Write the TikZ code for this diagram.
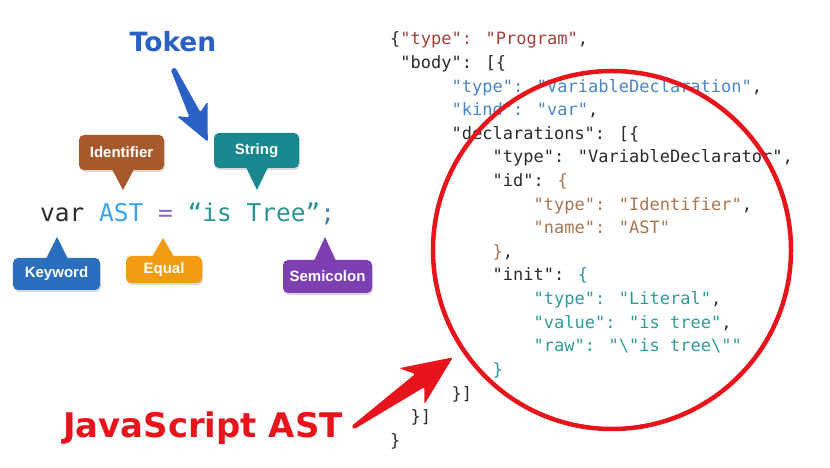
\documentclass[tikz,border=0pt]{standalone}
\usepackage{fontspec}
\setmainfont{DejaVu Sans}
\newfontfamily\labelfont{Liberation Sans}
\newfontfamily\codefont{DejaVu Sans Mono}
\usetikzlibrary{calc,shadows}
\definecolor{ink}{HTML}{2B2B2B}
\definecolor{tokblue}{HTML}{2B61C4}
\definecolor{astred}{HTML}{E8141B}
\definecolor{idbrown}{HTML}{A65A2C}
\definecolor{strteal}{HTML}{17898E}
\definecolor{kwblue}{HTML}{2A6EBE}
\definecolor{eqorange}{HTML}{F39C12}
\definecolor{semipurple}{HTML}{7E3FB3}
\definecolor{astblue}{HTML}{3BA2EE}
\definecolor{eqpurple}{HTML}{8B62C4}
\definecolor{littl}{HTML}{2A9490}
\definecolor{semiblue}{HTML}{3B84B5}
\definecolor{progred}{HTML}{A8403F}
\definecolor{declblue}{HTML}{4A86C5}
\definecolor{jsbrown}{HTML}{A77650}
\definecolor{jsteal}{HTML}{2E9C9A}

% tapering arrow: colour, tail, tip, tail/neck/barb half widths, neck/barb fractions
\newcommand\fatarrow[8]{%
  \fill[#1,rounded corners=1.5bp]
    ($(#2)!#4!90:(#3)$) -- ($(#2)!#7!(#3)!#5!90:(#3)$)
    -- ($(#2)!#8!(#3)!#6!90:(#3)$) -- (#3)
    -- ($(#2)!#8!(#3)!#6!-90:(#3)$) -- ($(#2)!#7!(#3)!#5!-90:(#3)$)
    -- ($(#2)!#4!-90:(#3)$) -- cycle;}

\begin{document}
\begin{tikzpicture}[x=1bp,y=-1bp,
    bubble/.style={fill=#1,rounded corners=5bp,text=white,inner sep=0pt,
      font=\labelfont\bfseries\fontsize{15bp}{15bp}\selectfont,
      drop shadow={shadow xshift=1bp,shadow yshift=-2bp,opacity=0.3}},
    json/.style={anchor=base west,inner sep=0pt,text=ink,
      font=\codefont\fontsize{17bp}{20bp}\selectfont}]
  \useasboundingbox (0,0) rectangle (830,468);

  % Tokens of the source line
  \node[anchor=base,inner sep=0pt,text=tokblue,
        font=\bfseries\fontsize{26.5bp}{30bp}\selectfont] (token) at (173,52) {Token};

  \node[anchor=base west,inner sep=0pt,text=ink,
        font=\codefont\fontsize{24.5bp}{28bp}\selectfont] (codeline) at (40,222)
       {var {\color{astblue}AST} {\color{eqpurple}=} {\color{littl}“is Tree”}{\color{semiblue};}};

  \node[bubble=idbrown,minimum width=85bp,minimum height=35bp] (ident) at (121.5,152.5) {Identifier};
  \node[bubble=strteal,minimum width=85bp,minimum height=35bp] (str) at (256.5,150.5) {String};
  \node[bubble=kwblue,minimum width=87bp,minimum height=32bp] (kw) at (56.5,274) {Keyword};
  \node[bubble=eqorange,minimum width=76bp,minimum height=27bp] (eq) at (164,269.5) {Equal};
  \node[bubble=semipurple,minimum width=89bp,minimum height=33bp] (semi) at (327.5,276.5) {Semicolon};

  \coordinate (tip-ident) at (123,190);
  \coordinate (tip-str) at (257,190);
  \coordinate (tip-kw) at (57,237);
  \coordinate (tip-eq) at (163,238);
  \coordinate (tip-semi) at (325,237);
  \foreach \nm/\col/\side/\off in {ident/idbrown/south/1bp, str/strteal/south/1bp,
      kw/kwblue/north/-1bp, eq/eqorange/north/-1bp, semi/semipurple/north/-1bp}
    \fill[\col] ($(tip-\nm |- \nm.\side)+(-11bp,\off)$) -- (tip-\nm)
                -- ($(tip-\nm |- \nm.\side)+(11bp,\off)$) -- cycle;

  \coordinate (tokstart) at ([yshift=-16bp]token.south);
  \coordinate (tokend) at ([xshift=-6bp,yshift=-9bp]str.north west);
  \fatarrow{tokblue}{tokstart}{tokend}{2.5bp}{6bp}{17bp}{0.63}{0.55}

  % The AST as JSON
  \foreach \ln/\ind/\txt in {
      1/0/{\{{\color{progred}"type": "Program"},},
      2/1/{"body": [\{},
      3/6/{{\color{declblue}"type": "VariableDeclaration"},},
      4/6/{{\color{declblue}"kind": "var"},},
      5/6/{"declarations": [\{},
      6/10/{"type": "VariableDeclarator",},
      7/10/{"id": {\color{jsbrown}\{}},
      8/14/{{\color{jsbrown}"type": "Identifier"},},
      9/14/{{\color{jsbrown}"name": "AST"}},
      10/10/{{\color{jsbrown}\}},},
      11/10/{"init": {\color{jsteal}\{}},
      12/14/{{\color{jsteal}"type": "Literal"},},
      13/14/{{\color{jsteal}"value": "is tree"},},
      14/14/{{\color{jsteal}"raw": "\textbackslash"is tree\textbackslash""}},
      15/10/{{\color{jsteal}\}}},
      16/6/{\}]},
      17/2/{\}]},
      18/0/{\}}}
    \node[json] (j\ln) at ({390+\ind*10.25},{45+(\ln-1)*23.6}) {\txt};

  \node[draw=astred,line width=4.5bp,circle,minimum size=358bp] (ring) at (612,250) {};

  \node[anchor=base west,inner sep=0pt,text=astred,
        font=\bfseries\fontsize{33.9bp}{38bp}\selectfont] (jsast) at (63,437) {JavaScript AST};
  \coordinate (asttail) at ([xshift=10bp]jsast.east);
  \coordinate (asttip) at ($(ring.center)!192bp!(ring.214)$);
  \fatarrow{astred}{asttail}{asttip}{2bp}{8bp}{22bp}{0.67}{0.59}
\end{tikzpicture}
\end{document}
